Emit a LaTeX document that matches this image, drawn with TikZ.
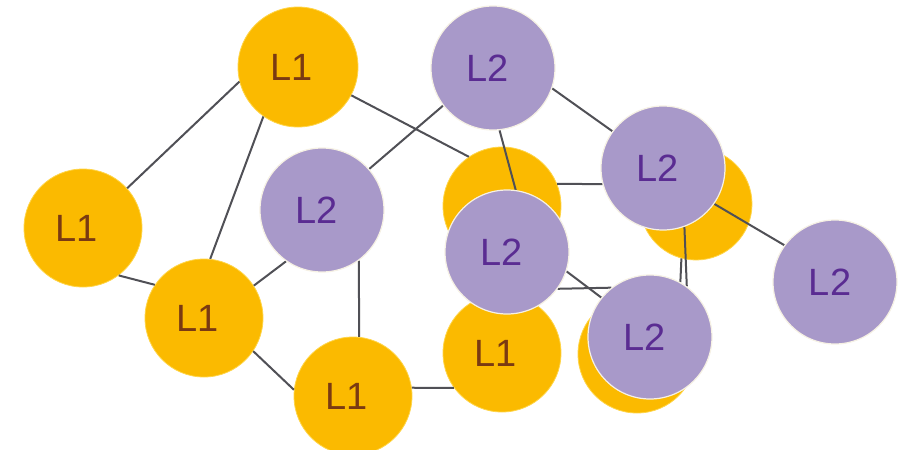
\documentclass[tikz,border=0pt]{standalone}
\usepackage{fontspec}
\setmainfont{Liberation Sans}
\definecolor{yel}{HTML}{FBBA00}
\definecolor{yelrim}{HTML}{FFD548}
\definecolor{pur}{HTML}{A899C9}
\definecolor{purrim}{HTML}{F6F1E4}
\definecolor{ltxt}{HTML}{7A3A12}
\definecolor{ptxt}{HTML}{5A2C92}
\definecolor{edgec}{HTML}{505056}
\pgfdeclarelayer{ylayer}
\pgfdeclarelayer{elayer}
\pgfsetlayers{ylayer,elayer,main}
\begin{document}
\begin{tikzpicture}[x=1pt,y=-1pt,
  lone/.style={circle, fill=yel, draw=yelrim, line width=0.8pt, minimum size=118pt, inner sep=0pt, text=ltxt, font=\fontsize{38}{38}\selectfont, execute at end node=\hspace*{12pt}},
  ltwo/.style={circle, fill=pur, draw=purrim, line width=1.2pt, minimum size=124pt, inner sep=0pt, text=ptxt, font=\fontsize{38}{38}\selectfont, execute at end node=\hspace*{10pt}},
  link/.style={draw=edgec, line width=2pt}]
\begin{pgfonlayer}{ylayer}
\useasboundingbox[fill=white] (0,0) rectangle (914,450);
% level-1 nodes
\node[lone, minimum size=120pt] (A) at (298,67) {L1};
\node[lone] (B) at (83,228) {L1};
\node[lone] (C) at (204,318) {L1};
\node[lone] (D) at (353,396) {L1};
\node[lone] (E) at (502,353) {L1};
\node[lone] (F) at (502,206) {};
\node[lone, minimum size=112pt] (G) at (696,204) {};
\node[lone] (H) at (637,354) {};
\end{pgfonlayer}
% level-2 nodes
\node[ltwo] (P1) at (493,68) {L2};
\node[ltwo] (P2) at (322,210) {L2};
\node[ltwo] (P3) at (507,252) {L2};
\node[ltwo] (P4) at (663,168) {L2};
\node[ltwo] (P5) at (650,337) {L2};
\node[ltwo] (P6) at (835,282) {L2};
% connectors
\begin{pgfonlayer}{elayer}
\draw[link] (A.194) -- (B.42);
\draw[link] (A.235) -- (C.84);
\draw[link] (B.-53) -- (C.146);
\draw[link] (C.33) -- (P2.235);
\draw[link] (C.-34) -- (D.174);
\draw[link] (P2.-54) -- (D.84);
\draw[link] (D.8) -- (E.216);
\draw[link] (A.-28) -- (F.124);
\draw[link] (P1.-143) -- (P2.41);
\draw[link] (P1.-84) -- (P3.82);
\draw[link] (P1.-19) -- (P4.144);
\draw[link] (F.22) -- (P4.195);
\draw[link] (P4.-70) -- (P5.54);
\draw[link] (G.-105) -- (P5.61);
\draw[link] (P3.-36) -- (P5.128);
\draw[link] (P3.-18) -- (P5.141);
\draw[link] (P4.-35) -- (P6.144);
\end{pgfonlayer}
\end{tikzpicture}
\end{document}
